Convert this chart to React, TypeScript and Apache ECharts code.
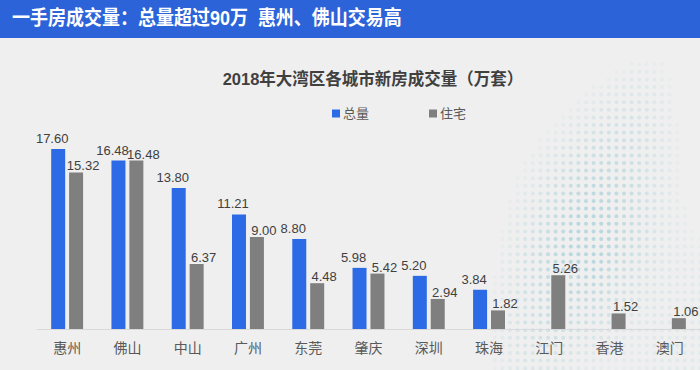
import React, { useEffect, useRef } from "react";
import * as echarts from "echarts";

const categories = ["惠州", "佛山", "中山", "广州", "东莞", "肇庆", "深圳", "珠海", "江门", "香港", "澳门"];
const totalValues = [17.6, 16.48, 13.8, 11.21, 8.8, 5.98, 5.2, 3.84, null, null, null];
const residentialValues = [15.32, 16.48, 6.37, 9.0, 4.48, 5.42, 2.94, 1.82, 5.26, 1.52, 1.06];
const seriesNames = ["总量", "住宅"];
const headerText = "一手房成交量：总量超过90万  惠州、佛山交易高";
const chartTitle = "2018年大湾区各城市新房成交量（万套）";

const FONT = "'Liberation Sans', 'Noto Sans CJK SC', sans-serif";

function dotPattern(w: number, h: number): string {
  const step = 7.6;
  let circles = "";
  for (let y = 4; y < h; y += step) {
    for (let x = 4; x < w; x += step) {
      const nx = x / w;
      const ny = y / h;
      const cx = nx - 0.62;
      const cy = ny - 0.62;
      let a = 0.6 - Math.sqrt(cx * cx * 1.5 + cy * cy * 1.1);
      a += 0.12 * Math.sin(nx * 9 + ny * 5);
      if (a <= 0.06) continue;
      a = Math.min(a, 0.6);
      circles += `<circle cx="${x.toFixed(1)}" cy="${y.toFixed(1)}" r="2" fill="rgb(150,200,212)" fill-opacity="${a.toFixed(2)}"/>`;
    }
  }
  const svg = `<svg xmlns="http://www.w3.org/2000/svg" width="${w}" height="${h}">${circles}</svg>`;
  return "data:image/svg+xml;charset=utf-8," + encodeURIComponent(svg);
}

export default function App() {
  const ref = useRef<HTMLDivElement>(null);
  useEffect(() => {
    if (!ref.current) return;
    const chart = echarts.init(ref.current, null, { renderer: "svg" });
    const labelFmt = (p: any) => (p.value == null ? "" : Number(p.value).toFixed(2));
    chart.setOption({
      animation: false,
      backgroundColor: "#efefef",
      graphic: [
        {
          type: "image",
          left: 430,
          top: 45,
          z: 0,
          silent: true,
          style: { image: dotPattern(270, 325), width: 270, height: 325 },
        },
        {
          type: "rect",
          left: 0,
          top: 0,
          z: 1,
          shape: { width: 700, height: 38 },
          style: { fill: "#2c63d8" },
        },
        {
          type: "text",
          x: 12,
          y: 8,
          scaleX: 0.9,
          z: 2,
          style: {
            text: headerText,
            fill: "#ffffff",
            font: `bold 20px ${FONT}`,
          },
        },
      ],
      title: {
        text: chartTitle,
        left: 368,
        textAlign: "center",
        top: 66,
        textStyle: { fontFamily: FONT, fontSize: 16.5, fontWeight: "bold", color: "#404040" },
      },
      legend: {
        top: 102,
        left: 327,
        itemWidth: 8,
        itemHeight: 8,
        itemGap: 60,
        icon: "rect",
        textStyle: { fontFamily: FONT, fontSize: 13, color: "#595959", padding: [0, 0, 0, -2] },
        data: seriesNames,
      },
      grid: { left: 37, width: 668, top: 145, bottom: 41 },
      xAxis: {
        type: "category",
        data: categories,
        axisLine: { lineStyle: { color: "#d9d9d9" } },
        axisTick: { show: false },
        axisLabel: { fontFamily: FONT, fontSize: 14, color: "#595959", margin: 12 },
      },
      yAxis: { type: "value", min: 0, max: 18, show: false, splitLine: { show: false } },
      series: [
        {
          name: seriesNames[0],
          type: "bar",
          data: totalValues,
          barWidth: 14,
          barGap: "28%",
          itemStyle: { color: "#2d6ae6" },
          label: {
            show: true,
            position: "top",
            distance: 4,
            offset: [-6, 0],
            formatter: labelFmt,
            fontFamily: FONT,
            fontSize: 13,
            color: "#404040",
          },
        },
        {
          name: seriesNames[1],
          type: "bar",
          data: residentialValues,
          barWidth: 14,
          barGap: "28%",
          itemStyle: { color: "#7f7f7f" },
          label: {
            show: true,
            position: "top",
            distance: 0,
            offset: [7, 0],
            formatter: labelFmt,
            fontFamily: FONT,
            fontSize: 13,
            color: "#404040",
          },
        },
      ],
    });
    return () => chart.dispose();
  }, []);
  return (
    <div
      ref={ref}
      style={{ position: "fixed", left: 0, top: 0, width: 700, height: 370 }}
    />
  );
}
